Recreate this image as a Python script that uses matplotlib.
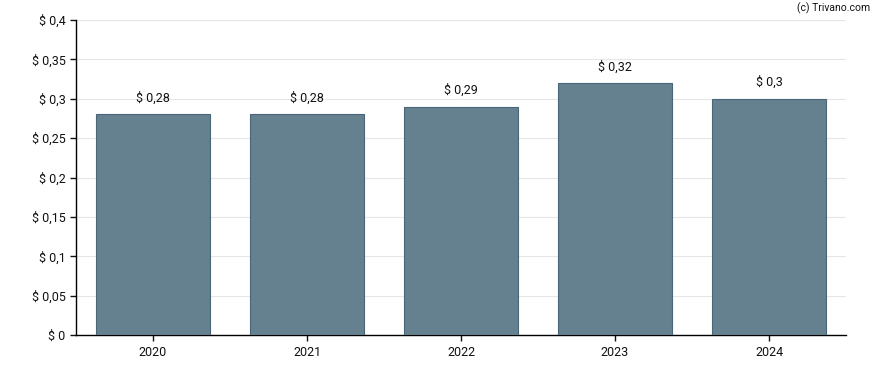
import matplotlib.pyplot as plt
import numpy as np

plt.rcParams['font.family'] = ['Roboto', 'DejaVu Sans']

# Datos
years = ['2020', '2021', '2022', '2023', '2024']
values = [0.28, 0.28, 0.29, 0.32, 0.30]
value_labels = ['$ 0,28', '$ 0,28', '$ 0,29', '$ 0,32', '$ 0,3']
y_ticks = [0, 0.05, 0.1, 0.15, 0.2, 0.25, 0.3, 0.35, 0.4]
y_tick_labels = ['$ 0', '$ 0,05', '$ 0,1', '$ 0,15', '$ 0,2', '$ 0,25', '$ 0,3', '$ 0,35', '$ 0,4']

fig = plt.figure(figsize=(8.88, 3.7), dpi=100)
ax = fig.add_axes([76 / 888, 1 - 335 / 370, 770 / 888, 315 / 370])

x = np.arange(len(years))
ax.bar(x, values, width=0.74, color='#65818f', edgecolor='#4a6577', linewidth=0.8, zorder=3)

for xi, v, lab in zip(x, values, value_labels):
    ax.annotate(lab, (xi, v), xytext=(0, 7), textcoords='offset points',
                ha='center', va='bottom', fontsize=9, color='#111111')

ax.set_xlim(-0.5, 4.5)
ax.set_ylim(0, 0.4)
ax.set_xticks(x)
ax.set_xticklabels(years)
ax.set_yticks(y_ticks)
ax.set_yticklabels(y_tick_labels)
ax.tick_params(axis='both', labelsize=9, colors='#111111', length=4, width=1)
ax.tick_params(axis='x', pad=4)

ax.grid(axis='y', color='#e6e6e6', linewidth=0.8, zorder=0)
for s in ['top', 'right']:
    ax.spines[s].set_visible(False)
for s in ['left', 'bottom']:
    ax.spines[s].set_color('#000000')
    ax.spines[s].set_linewidth(1)

fig.text(870 / 888, 1 - 8 / 370, '(c) Trivano.com', ha='right', va='center', fontsize=7.5, color='#111111')

fig.savefig('out.png', dpi=100)
